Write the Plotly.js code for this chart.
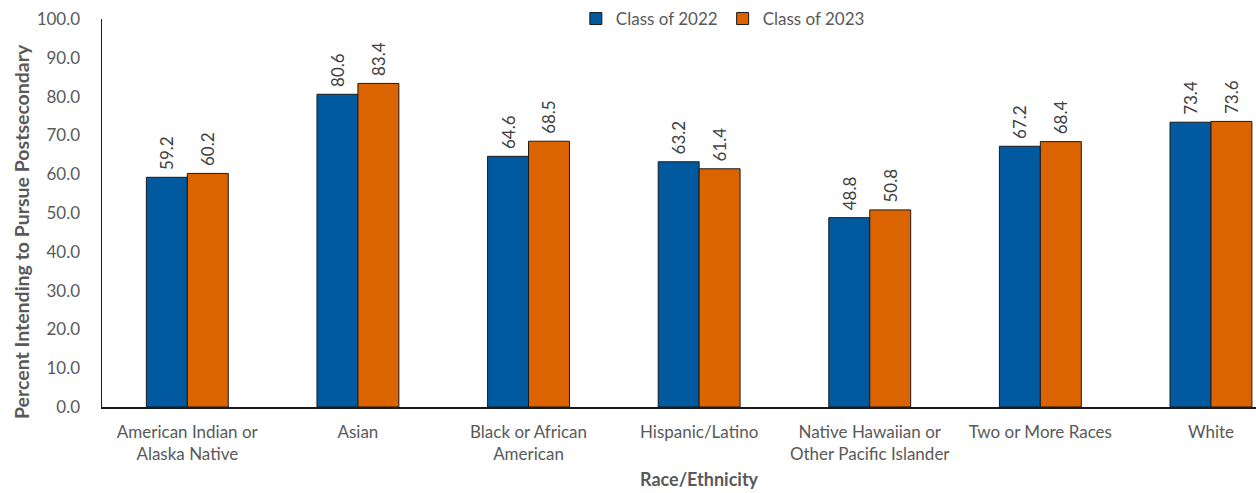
<!DOCTYPE html>
<html>
<head>
<meta charset="utf-8">
<script src="https://cdn.plot.ly/plotly-3.0.1.min.js"></script>
<style>html,body{margin:0;padding:0;background:#fff;}#chart{width:1256px;height:493px;}</style>
</head>
<body>
<div id="chart"></div>
<script>
const categories = [
  "American Indian or<br>Alaska Native",
  "Asian",
  "Black or African<br>American",
  "Hispanic/Latino",
  "Native Hawaiian or<br>Other Pacific Islander",
  "Two or More Races",
  "White"
];
const class2022 = [59.2, 80.6, 64.6, 63.2, 48.8, 67.2, 73.4];
const class2023 = [60.2, 83.4, 68.5, 61.4, 50.8, 68.4, 73.6];
const seriesNames = ["Class of 2022", "Class of 2023"];

const FONT = "Lato, 'Open Sans', sans-serif";
const textFont = {family: FONT, size: 17, color: "#404040"};

function barTrace(name, vals, color) {
  return {
    type: "bar",
    name: name,
    x: categories,
    y: vals,
    marker: {color: color, line: {color: "#1a1a1a", width: 1}},
    text: vals.map(v => "\u00a0" + v.toFixed(1)),
    textposition: "outside",
    textangle: -90,
    textfont: textFont,
    cliponaxis: false,
    hoverinfo: "x+y"
  };
}

const data = [
  barTrace(seriesNames[0], class2022, "#01599F"),
  barTrace(seriesNames[1], class2023, "#DB6400")
];

const layout = {
  width: 1256,
  height: 493,
  margin: {l: 102, r: 0, t: 19, b: 86},
  paper_bgcolor: "#fff",
  plot_bgcolor: "#fff",
  font: {family: FONT, color: "#595959", size: 17},
  barmode: "group",
  bargap: 0.52,
  bargroupgap: 0,
  showlegend: true,
  legend: {
    orientation: "h",
    x: 0.538, xanchor: "center",
    y: 1.0, yanchor: "middle",
    font: {family: FONT, size: 17, color: "#595959"},
    itemwidth: 30,
    traceorder: "normal"
  },
  xaxis: {
    type: "category",
    range: [-0.5, 6.264],
    showline: true,
    linecolor: "#1a1a1a",
    linewidth: 1.5,
    ticks: "",
    showgrid: false,
    tickfont: {family: FONT, size: 17, color: "#595959"},
    ticklabelstandoff: 9,
    automargin: false
  },
  yaxis: {
    range: [0, 100],
    dtick: 10,
    tickformat: ".1f",
    showline: true,
    linecolor: "#1a1a1a",
    linewidth: 1.5,
    ticks: "",
    showgrid: false,
    zeroline: false,
    tickfont: {family: FONT, size: 17, color: "#595959"},
    ticklabelstandoff: 17,
    automargin: false
  },
  annotations: [{
    text: "<b>Race/Ethnicity</b>",
    xref: "x", yref: "paper",
    x: 3, y: -0.186,
    yanchor: "middle",
    showarrow: false,
    font: {family: FONT, size: 18, color: "#595959"}
  }, {
    text: "<b>Percent Intending to Pursue Postsecondary</b>",
    xref: "paper", yref: "paper",
    x: -0.0702, y: 0.4536,
    xanchor: "center", yanchor: "middle",
    textangle: -90,
    showarrow: false,
    font: {family: FONT, size: 19.5, color: "#595959"}
  }]
};

Plotly.newPlot("chart", data, layout, {displayModeBar: false, staticPlot: true});
</script>
</body>
</html>
